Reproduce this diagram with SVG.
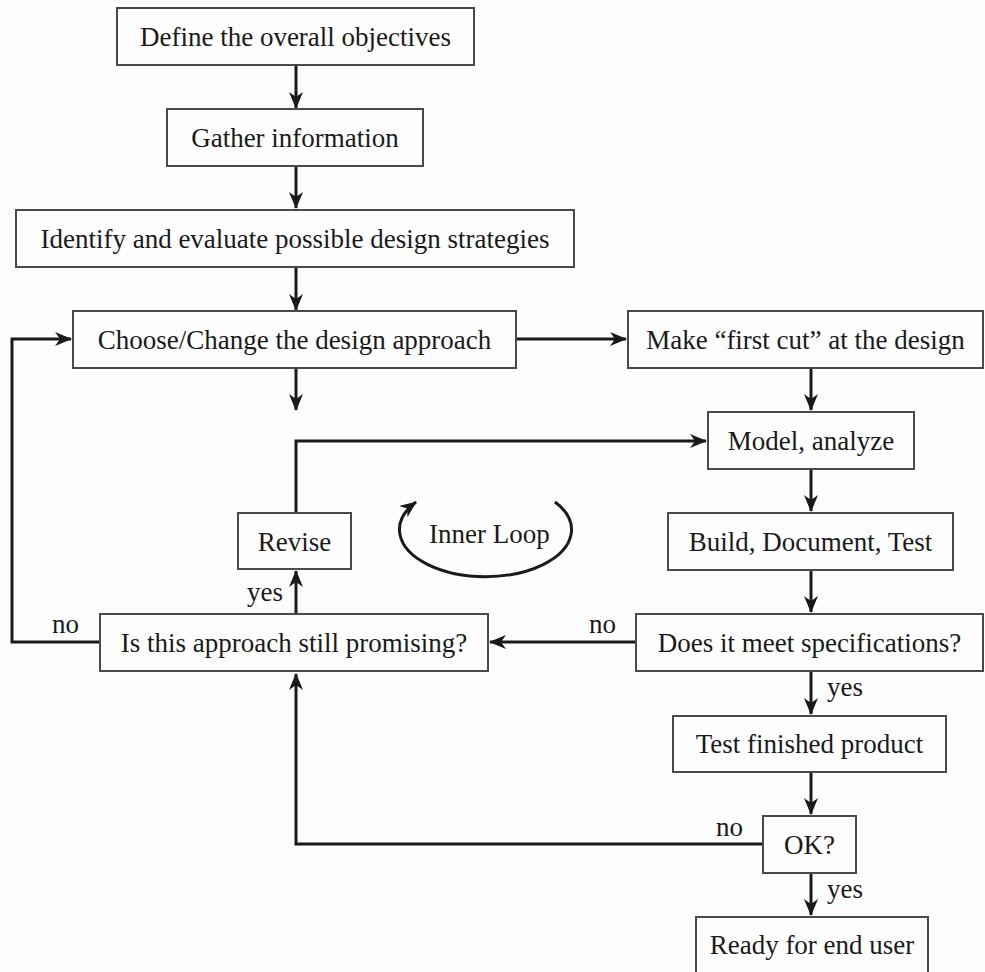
<svg xmlns="http://www.w3.org/2000/svg" width="985" height="972" viewBox="0 0 985 972">
<style>
.box{fill:#fdfdfd;stroke:#4a4a4a;stroke-width:2}
.t{font-family:"Liberation Serif","Times New Roman",serif;font-size:27px;fill:#1a1a1a;text-anchor:middle}
.l{font-family:"Liberation Serif","Times New Roman",serif;font-size:27px;fill:#1a1a1a}
.c{fill:none;stroke:#1a1a1a;stroke-width:3}
</style>
<defs>
<marker id="ah" markerUnits="userSpaceOnUse" markerWidth="18" markerHeight="14" refX="16" refY="7" orient="auto">
<path d="M0,0 L17,7 L0,14 L5,7 z" fill="#1a1a1a"/>
</marker>
</defs>
<rect width="985" height="972" fill="#fdfdfd"/>
<g id="connectors">
<path class="c" d="M296,66 V108" marker-end="url(#ah)"/>
<path class="c" d="M296,167 V208" marker-end="url(#ah)"/>
<path class="c" d="M296,268 V310" marker-end="url(#ah)"/>
<path class="c" d="M517,339 H626" marker-end="url(#ah)"/>
<path class="c" d="M296,369 V410" marker-end="url(#ah)"/>
<path class="c" d="M811,369 V410" marker-end="url(#ah)"/>
<path class="c" d="M811,470 V511" marker-end="url(#ah)"/>
<path class="c" d="M811,571 V612" marker-end="url(#ah)"/>
<path class="c" d="M636,642 H490" marker-end="url(#ah)"/>
<path class="c" d="M811,672 V714" marker-end="url(#ah)"/>
<path class="c" d="M811,773 V814" marker-end="url(#ah)"/>
<path class="c" d="M811,874 V915" marker-end="url(#ah)"/>
<path class="c" d="M100,642 H12 V339 H71" marker-end="url(#ah)"/>
<path class="c" d="M296,613 V571" marker-end="url(#ah)"/>
<path class="c" d="M296,513 V441 H706" marker-end="url(#ah)"/>
<path class="c" d="M763,844 H296 V674" marker-end="url(#ah)"/>
<path class="c" d="M555,502 A86 47 0 1 1 416,502" marker-end="url(#ah)" stroke-width="2.5"/>
<text class="l" x="589" y="633">no</text>
<text class="l" x="827" y="696">yes</text>
<text class="l" x="716" y="836">no</text>
<text class="l" x="827" y="898">yes</text>
<text class="l" x="52" y="633">no</text>
<text class="l" x="247" y="601">yes</text>
<text class="l" x="429" y="543">Inner Loop</text>
</g>
<g id="n1"><rect class="box" x="117" y="8" width="357" height="57"/><text class="t" x="295.5" y="46">Define the overall objectives</text></g>
<g id="n2"><rect class="box" x="167" y="109" width="256" height="57"/><text class="t" x="295" y="147">Gather information</text></g>
<g id="n3"><rect class="box" x="16" y="210" width="558" height="57"/><text class="t" x="295" y="248">Identify and evaluate possible design strategies</text></g>
<g id="n4"><rect class="box" x="73" y="311" width="443" height="57"/><text class="t" x="294.5" y="349">Choose/Change the design approach</text></g>
<g id="n5"><rect class="box" x="628" y="311" width="355" height="57"/><text class="t" x="805.5" y="349">Make “first cut” at the design</text></g>
<g id="n6"><rect class="box" x="708" y="412" width="206" height="57"/><text class="t" x="811" y="450">Model, analyze</text></g>
<g id="n7"><rect class="box" x="668" y="513" width="285" height="57"/><text class="t" x="810.5" y="551">Build, Document, Test</text></g>
<g id="n8"><rect class="box" x="636" y="614" width="347" height="57"/><text class="t" x="809.5" y="652">Does it meet specifications?</text></g>
<g id="n9"><rect class="box" x="100" y="614" width="388" height="57"/><text class="t" x="294" y="652">Is this approach still promising?</text></g>
<g id="n10"><rect class="box" x="238" y="513" width="113" height="56"/><text class="t" x="294.5" y="551">Revise</text></g>
<g id="n11"><rect class="box" x="673" y="716" width="273" height="56"/><text class="t" x="809.5" y="753">Test finished product</text></g>
<g id="n12"><rect class="box" x="763" y="816" width="93" height="57"/><text class="t" x="809.5" y="854">OK?</text></g>
<g id="n13"><rect class="box" x="696" y="917" width="232" height="70"/><text class="t" x="812" y="954">Ready for end user</text></g>
</svg>
